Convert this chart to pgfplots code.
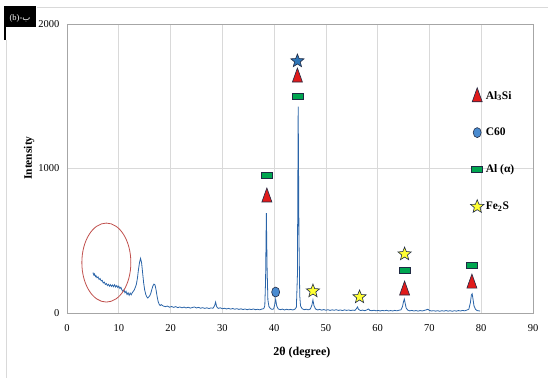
\documentclass[border=0pt]{standalone}
\usepackage{pgfplots}
\pgfplotsset{compat=1.18}
\usepackage{fontspec}
\setmainfont{Liberation Serif}
\newfontfamily\arabicfont[Script=Arabic]{DejaVu Sans}
\TeXXeTstate=1
\definecolor{lineblue}{HTML}{2A64A8}
\definecolor{gridgray}{HTML}{D9D9D9}
\definecolor{mkred}{HTML}{E01B1B}
\definecolor{mkgreen}{HTML}{00A650}
\definecolor{mkblue}{HTML}{4A8BD0}
\definecolor{mkstarblue}{HTML}{2E75B6}
\definecolor{mkyellow}{HTML}{FFFF33}
\definecolor{mkedge}{HTML}{1F2A44}
\definecolor{ellred}{HTML}{C0504D}
\pgfdeclareplotmark{tri}{%
  \pgfpathmoveto{\pgfpoint{-5pt}{-6pt}}%
  \pgfpathlineto{\pgfpoint{5pt}{-6pt}}%
  \pgfpathlineto{\pgfpoint{0pt}{8pt}}%
  \pgfpathclose\pgfusepathqfillstroke}
\pgfdeclareplotmark{rect}{%
  \pgfpathrectangle{\pgfpoint{-5.5pt}{-3pt}}{\pgfpoint{11pt}{6pt}}%
  \pgfusepathqfillstroke}
\pgfdeclareplotmark{ell}{%
  \pgfpathellipse{\pgfpointorigin}{\pgfpoint{4pt}{0pt}}{\pgfpoint{0pt}{5pt}}%
  \pgfusepathqfillstroke}
\pgfdeclareplotmark{fstar}{%
  \pgfpathmoveto{\pgfpoint{0pt}{7pt}}%
  \pgfpathlineto{\pgfpoint{-1.763pt}{2.427pt}}%
  \pgfpathlineto{\pgfpoint{-6.657pt}{2.163pt}}%
  \pgfpathlineto{\pgfpoint{-2.853pt}{-0.927pt}}%
  \pgfpathlineto{\pgfpoint{-4.114pt}{-5.663pt}}%
  \pgfpathlineto{\pgfpoint{0pt}{-3pt}}%
  \pgfpathlineto{\pgfpoint{4.114pt}{-5.663pt}}%
  \pgfpathlineto{\pgfpoint{2.853pt}{-0.927pt}}%
  \pgfpathlineto{\pgfpoint{6.657pt}{2.163pt}}%
  \pgfpathlineto{\pgfpoint{1.763pt}{2.427pt}}%
  \pgfpathclose\pgfusepathqfillstroke}
\begin{document}
\begin{tikzpicture}
\begin{axis}[
  scale only axis, width=466pt, height=289pt,
  xmin=0, xmax=90, ymin=0, ymax=2000,
  xtick={0,10,...,90}, ytick={0,1000,2000},
  grid=major, major grid style={gridgray, line width=0.6pt},
  axis line style={gray!70, line width=0.7pt},
  major tick length=0pt,
  tick label style={font=\fontsize{10.5}{12}\selectfont},
  /pgf/number format/assume math mode=true,
  /pgf/number format/1000 sep={},
  xticklabel style={yshift=-8pt},
  yticklabel style={xshift=-4pt},
  xlabel={\bfseries 2θ (degree)},
  ylabel={\bfseries Intensity},
  xlabel style={at={(axis description cs:0.504,0)}, anchor=center, yshift=-40pt, font=\fontsize{12}{14}\selectfont},
  ylabel style={at={(axis description cs:-0.0815,0.536)}, anchor=center, font=\fontsize{11.5}{13}\selectfont},
  legend style={at={(axis cs:77.9,1560)}, anchor=north west, draw=none, fill=none,
    font=\bfseries\fontsize{11.5}{13}\selectfont, row sep=23.5pt, inner sep=0pt,
    /tikz/every even column/.append style={column sep=12pt}},
  legend cell align=left,
  legend image code/.code={\draw[#1] plot coordinates {(0.18cm,0cm)};},
  clip=false,
]
\addplot[lineblue, line width=0.8pt, mark=none, forget plot] coordinates {
(5.0,280)(5.2,262)(5.3,270)(5.5,252)(5.6,258)(5.8,244)(6.0,250)(6.2,232)(6.4,238)(6.6,222)(6.8,226)(7.0,208)(7.2,214)(7.4,198)(7.6,204)(7.8,190)(8.0,198)(8.2,186)(8.4,196)(8.6,184)(8.8,194)(9.0,182)(9.2,196)(9.4,180)(9.6,190)(9.8,176)(10.0,186)(10.2,170)(10.4,178)(10.6,160)(10.8,150)(11.0,160)(11.2,140)(11.4,150)(11.6,128)(11.8,140)(12.0,122)(12.2,138)(12.4,126)(12.6,140)(12.8,150)(13.0,160)(13.2,178)(13.4,200)(13.6,240)(13.8,300)(14.0,348)(14.2,378)(14.4,350)(14.6,280)(14.8,210)(15.0,160)(15.2,130)(15.4,112)(15.6,104)(15.8,112)(16.0,120)(16.2,138)(16.4,165)(16.6,188)(16.8,200)(17.0,194)(17.2,160)(17.4,115)(17.6,80)(17.8,60)(18.0,52)(18.2,58)(18.6,48)(19.0,44)(19.4,48)(19.8,40)(20.2,45)(20.6,39)(21.0,44)(21.4,37)(21.8,42)(22.2,36)(22.6,41)(23.0,35)(23.4,40)(23.8,34)(24.2,38)(24.6,42)(25.0,35)(25.4,39)(25.8,33)(26.2,37)(26.6,32)(27.0,36)(27.4,31)(27.8,35)(28.2,33)(28.5,50)(28.7,76)(28.9,44)(29.2,32)(29.6,36)(30.0,29)(30.4,33)(30.8,28)(31.2,32)(31.6,27)(32.0,31)(32.4,26)(32.8,30)(33.2,25)(33.6,29)(34.0,24)(34.4,28)(34.8,23)(35.2,27)(35.6,24)(36.0,28)(36.4,23)(36.8,26)(37.2,22)(37.6,27)(38.0,30)(38.2,50)(38.35,220)(38.5,692)(38.65,300)(38.8,90)(39.0,45)(39.3,30)(39.6,25)(39.9,28)(40.1,55)(40.3,95)(40.5,50)(40.8,28)(41.2,23)(41.6,27)(42.0,21)(42.4,26)(42.8,22)(43.2,25)(43.6,21)(44.0,26)(44.3,40)(44.5,260)(44.65,1428)(44.8,520)(44.95,120)(45.1,50)(45.4,30)(45.8,23)(46.2,26)(46.6,22)(47.0,28)(47.3,55)(47.5,90)(47.7,50)(48.0,28)(48.4,21)(48.8,25)(49.2,20)(49.6,24)(50.0,19)(50.4,23)(50.8,18)(51.2,22)(51.6,19)(52.0,23)(52.4,18)(52.8,21)(53.2,17)(53.6,22)(54.0,18)(54.4,21)(54.8,17)(55.2,20)(55.6,18)(55.9,30)(56.1,42)(56.3,25)(56.7,17)(57.1,20)(57.5,16)(57.9,21)(58.2,28)(58.5,18)(58.9,16)(59.3,19)(59.7,15)(60.1,18)(60.5,14)(60.9,18)(61.3,15)(61.7,19)(62.1,14)(62.5,17)(62.9,14)(63.3,18)(63.7,15)(64.1,19)(64.5,22)(64.8,45)(65.0,80)(65.15,97)(65.3,70)(65.5,35)(65.8,20)(66.2,15)(66.6,18)(67.0,14)(67.4,17)(67.8,13)(68.2,17)(68.6,14)(69.0,18)(69.4,22)(69.7,26)(70.0,18)(70.4,14)(70.8,16)(71.2,13)(71.6,16)(72.0,12)(72.4,16)(72.8,13)(73.2,17)(73.6,13)(74.0,16)(74.4,12)(74.8,16)(75.2,13)(75.6,17)(76.0,14)(76.4,18)(76.8,15)(77.2,20)(77.6,26)(77.9,70)(78.1,125)(78.25,133)(78.4,100)(78.6,50)(78.9,25)(79.2,17)(79.5,15)(79.8,14)
};
% Al:Si
\addplot[only marks, mark=tri, mark options={fill=mkred, draw=mkedge, line width=0.6pt}] coordinates {(38.6,810)(44.5,1640)(65.2,166)(78.2,214)};
\addlegendentry{Al\textsubscript{3}Si}
% C60
\addplot[only marks, mark=ell, mark options={fill=mkblue, draw=mkedge, line width=0.6pt}] coordinates {(40.3,145)};
\addlegendentry{C60}
% Al (alpha)
\addplot[only marks, mark=rect, mark options={fill=mkgreen, draw=mkedge, line width=0.6pt}] coordinates {(38.5,955)(44.5,1502)(65.2,298)(78.2,332)};
\addlegendentry{Al (α)}
% Fe2S
\addplot[only marks, mark=fstar, mark options={fill=mkyellow, draw=mkedge, line width=0.6pt}] coordinates {(47.5,152)(56.5,111)(65.2,408)};
\addlegendentry{Fe\textsubscript{2}S}
\addplot[only marks, mark=fstar, mark options={fill=mkstarblue, draw=mkedge, line width=0.6pt}, forget plot] coordinates {(44.5,1744)};
\draw[ellred, line width=0.8pt] (axis cs:7.6,349) ellipse [x radius=24.5pt, y radius=39.5pt];
\end{axis}
\draw[gridgray, line width=0.6pt] (-30pt,306pt) -- (481pt,306pt);
\draw[gridgray, line width=0.6pt] (-61pt,273pt) -- (-61pt,-65pt);
\fill[black] (-63pt,286pt) rectangle (-31pt,307pt);
\fill[black] (-63pt,273pt) rectangle (-61pt,286pt);
\node[white, font=\fontsize{8.5}{9}\selectfont, inner sep=0pt] at (-47pt,295pt) {(b)-{\arabicfont\beginR ب\endR}};
\pgfresetboundingbox
\path (-67pt,-65pt) rectangle (481pt,313pt);
\end{tikzpicture}
\end{document}
